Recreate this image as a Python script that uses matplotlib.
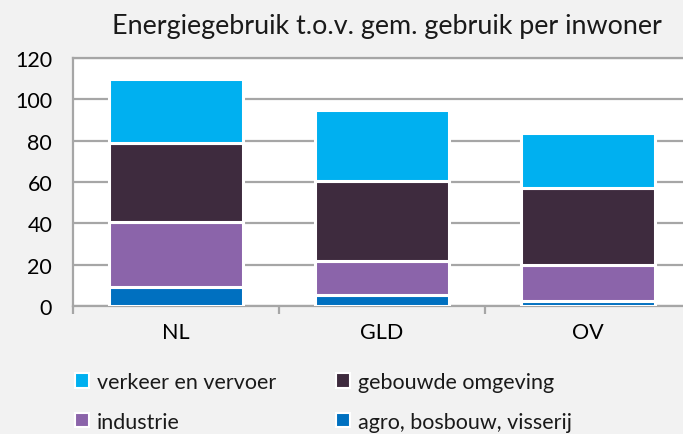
import matplotlib
matplotlib.use("Agg")
import matplotlib.pyplot as plt
from matplotlib.patches import Patch
import numpy as np

regions = ["NL", "GLD", "OV"]
agro = [9, 5.3, 2.5]
industrie = [31.5, 16.7, 17.3]
gebouwd = [38.2, 38.3, 37.2]
verkeer = [31.3, 34.7, 26.5]

series = [
    ("agro, bosbouw, visserij", agro, "#0070c0"),
    ("industrie", industrie, "#8b64aa"),
    ("gebouwde omgeving", gebouwd, "#3e2b3e"),
    ("verkeer en vervoer", verkeer, "#00b0f0"),
]

plt.rcParams["font.family"] = ["Lato", "DejaVu Sans"]
plt.rcParams["text.color"] = "#1a1a1a"

bg = "#f2f2f2"
grid = "#a6a6a6"

fig = plt.figure(figsize=(6.83, 4.35), dpi=100, facecolor=bg)
ax = fig.add_axes([0.1069, 0.2943, 0.9048, 0.5701])
ax.set_facecolor("white")

x = np.arange(len(regions))
bottom = np.zeros(len(regions))
for name, vals, col in series:
    ax.bar(x, vals, width=0.65, bottom=bottom, color=col,
           edgecolor="white", linewidth=2.2, zorder=3)
    bottom += np.array(vals)

ax.set_ylim(0, 120)
ax.set_xlim(-0.5, 2.5)
ax.set_yticks(range(0, 121, 20))
ax.yaxis.grid(True, color=grid, linewidth=1.6, zorder=1)
ax.set_axisbelow(True)
ax.tick_params(axis="y", length=0, pad=15, labelsize=15.5)

ax.set_xticks(x)
ax.set_xticklabels(regions)
ax.set_xticks([-0.5, 0.5, 1.5, 2.5], minor=True)
ax.tick_params(axis="x", which="major", length=0, pad=11.5, labelsize=15.5)
ax.tick_params(axis="x", which="minor", length=6, width=1.6, color=grid)

for s in ["left", "bottom", "top"]:
    ax.spines[s].set_color(grid)
    ax.spines[s].set_linewidth(1.6)
ax.spines["right"].set_visible(False)

fig.text(0.566, 0.938, "Energiegebruik t.o.v. gem. gebruik per inwoner",
         ha="center", va="center", fontsize=19.4)

order = ["verkeer en vervoer", "industrie", "gebouwde omgeving", "agro, bosbouw, visserij"]
colors = {n: c for n, _, c in series}
handles = [Patch(facecolor=colors[n], edgecolor="white", linewidth=1.5) for n in order]
fig.legend(handles, order, ncol=2, loc="upper left", bbox_to_anchor=(0.11, 0.142),
           frameon=False, fontsize=15.5, handlelength=0.65, handleheight=0.65,
           handletextpad=0.35, columnspacing=2.8, labelspacing=0.9,
           borderaxespad=0, borderpad=0)

fig.savefig("out.png", dpi=100, facecolor=bg)
